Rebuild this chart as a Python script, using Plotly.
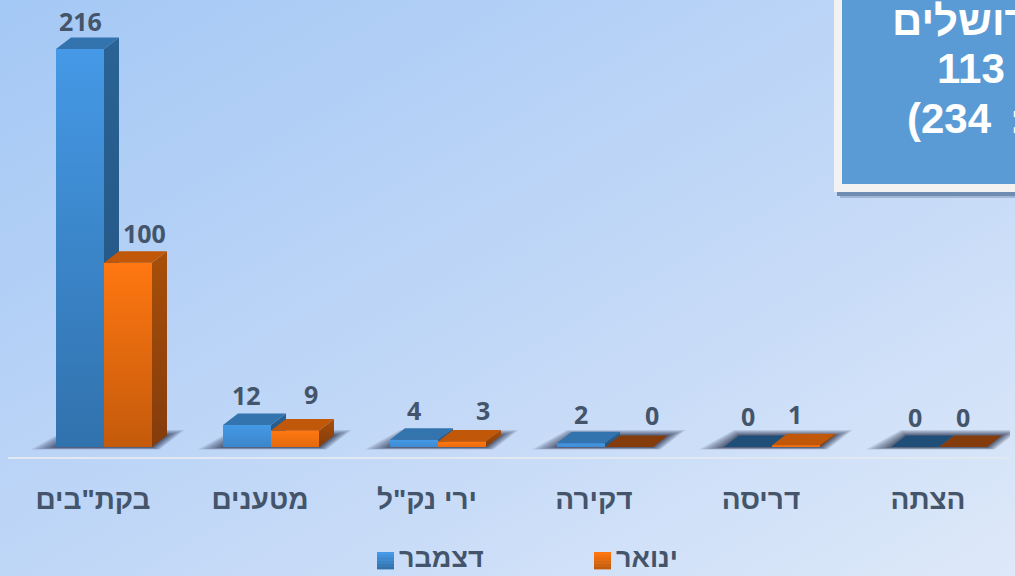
import base64
import plotly.graph_objects as go

# ---------- data ----------
categories = ['בקת"בים', "מטענים", 'ירי נק"ל', "דקירה", "דריסה", "הצתה"]
december = [216, 12, 4, 2, 0, 0]
january = [100, 9, 3, 0, 1, 0]
series_names = ["דצמבר", "ינואר"]
box_lines = ["ירושלים", "113", "(234\u00a0\u200a\u200a:"]

# ---------- style / geometry ----------
W, H = 1015, 576
PL, PR, PT, PB = 8, 5, 0, 119
GROUP_PX, GROUP0_PX = 167, 104
UNIT_PX, BASE_PX = 1.843, 447
AXIS_PX = 457
BAR_PX, DEPTH_X_PX, DEPTH_Y_PX = 48, 15, 11.5
TXT = "#44546a"
FONT = "Open Sans, DejaVu Sans, sans-serif"
HEB = "Liberation Sans, Arial, sans-serif"

bw = BAR_PX / GROUP_PX
dx = DEPTH_X_PX / GROUP_PX
dy = DEPTH_Y_PX / UNIT_PX

xr = [(PL - GROUP0_PX) / GROUP_PX, (W - PR - GROUP0_PX) / GROUP_PX]
yr = [(BASE_PX - AXIS_PX) / UNIT_PX, BASE_PX / UNIT_PX]


def hexrgb(h):
    return tuple(int(h[i:i + 2], 16) for i in (1, 3, 5))


def mix(a, b, t):
    ca, cb = hexrgb(a), hexrgb(b)
    return "#%02x%02x%02x" % tuple(round(p + (q - p) * t) for p, q in zip(ca, cb))


PAL = [
    dict(top="#4599e6", bottom="#3172ad", side0="#2a6394", side1="#215280", cap="#3373ae", dark="#1f4e79"),
    dict(top="#ff7711", bottom="#c45a0b", side0="#a84f09", side1="#843c0c", cap="#c05709", dark="#843c0c"),
]

bg_svg = f"""<svg xmlns='http://www.w3.org/2000/svg' width='{W}' height='{H}'>
<defs><linearGradient id='g' gradientUnits='userSpaceOnUse' x1='0' y1='0' x2='504' y2='877'>
<stop offset='0' stop-color='#a4c8f5'/><stop offset='0.55' stop-color='#c2d8f7'/><stop offset='1' stop-color='#deE9f9'/>
</linearGradient></defs><rect width='{W}' height='{H}' fill='url(#g)'/></svg>"""
bg_uri = "data:image/svg+xml;base64," + base64.b64encode(bg_svg.encode()).decode()

fig = go.Figure()
xs = list(range(len(categories)))

# real bars
for k, (name, vals) in enumerate(zip(series_names, (december, january))):
    fig.add_trace(go.Bar(x=xs, y=vals, name=name, width=bw, offset=(k - 1) * bw,
                         marker=dict(color=mix(PAL[k]["top"], PAL[k]["bottom"], 0.5), line=dict(width=0)),
                         showlegend=False, cliponaxis=False))


def poly(px, py, fill=None, grad=None):
    kw = dict(fillcolor=fill) if fill else dict(fillgradient=dict(type="vertical", colorscale=[[0, grad[0]], [1, grad[1]]]))
    fig.add_trace(go.Scatter(x=px, y=py, mode="lines", fill="toself", line=dict(width=0),
                             hoverinfo="skip", showlegend=False, **kw))


# 3-D faces, blue first so that orange overlaps it
for k, vals in enumerate((december, january)):
    p = PAL[k]
    for i, v in enumerate(vals):
        x0 = i + (k - 1) * bw
        x1 = x0 + bw
        if v > 0:
            poly([x1, x1 + dx, x1 + dx, x1, x1], [0, dy, v + dy, v, 0], grad=(p["side1"], p["side0"]))
            t = min(1, 0.3 + v / 60)
            poly([x0, x1, x1, x0, x0], [0, 0, v, v, 0], grad=(mix(p["top"], p["bottom"], t), p["top"]))
        poly([x0, x1, x1 + dx, x0 + dx, x0], [v, v, v + dy, v + dy, v], fill=p["cap"] if v > 0 else p["dark"])

# soft floor shadows
shapes = []
for i in xs:
    x0, x1 = i - bw, i + bw
    for e in (25, 22, 19, 16, 13, 10, 8, 6, 4, 2):
        ex = e / GROUP_PX
        top = dy + (0.22 * e) / UNIT_PX
        low = -(0.5 + 0.08 * e) / UNIT_PX
        shapes.append(dict(type="path", xref="x", yref="y", layer="below",
                           path=f"M{x0 - ex},{low} L{x1 + ex * 0.3},{low} L{x1 + dx + ex * 0.7},{top} L{x0 + dx - ex * 0.2},{top} Z",
                           fillcolor="rgba(40,50,70,0.11)", line=dict(width=0)))


def pxx(p):
    return (p - PL) / (W - PL - PR)


def pxy(p):
    return 1 - (p - PT) / (H - PT - PB)


def rect(x0, y0, x1, y1, color):
    shapes.append(dict(type="rect", xref="paper", yref="paper", layer="above",
                       x0=pxx(x0), x1=pxx(x1), y0=pxy(y1), y1=pxy(y0),
                       fillcolor=color, line=dict(width=0)))


# info box, running off the right and top edge
rect(840, -10, 1040, 198, "rgba(90,115,150,0.35)")
rect(837, -10, 1040, 196, "#6f8db3")
rect(834, -10, 1040, 192, "#f2f2f2")
rect(842, -10, 1040, 184, "#5b9bd5")

# legend swatches
for (sx, top, bottom) in ((377, PAL[0]["top"], PAL[0]["bottom"]), (594, PAL[1]["top"], PAL[1]["bottom"])):
    n = 6
    for j in range(n):
        rect(sx, 552 + 17 * j / n, sx + 17, 552 + 17 * (j + 1) / n + 0.4, mix(top, bottom, j / (n - 1)))

annotations = []
# value labels: horizontal nudges because the original labels are hand placed
nudge_dec = [0, -1, 0, 0, 0, 0]
nudge_jan = [16, 16, 21, 23, -1, 0]
rise_dec = [28, 30, 30, 29, 31, 30]
rise_jan = [30, 36, 31, 32, 31, 30]
for k, (vals, nudge, rise) in enumerate(((december, nudge_dec, rise_dec), (january, nudge_jan, rise_jan))):
    for i, v in enumerate(vals):
        annotations.append(dict(x=i + (k - 0.5) * bw, y=v, xref="x", yref="y", text=str(v), showarrow=False,
                                xanchor="center", yanchor="middle", xshift=nudge[i], yshift=rise[i],
                                font=dict(family=FONT, size=25, color=TXT, weight="bold")))

# box text
BOX_FONT = dict(family="Liberation Sans, Arial, sans-serif", size=42, color="#ffffff", weight="bold")
for txt, xa, x, y in ((box_lines[0], "left", 890, 20), (box_lines[1], "center", 971, 69), (box_lines[2], "left", 905, 118)):
    annotations.append(dict(x=pxx(x), y=pxy(y), xref="paper", yref="paper", text=txt, showarrow=False,
                            xanchor=xa, yanchor="middle", font=BOX_FONT, align="left"))

# legend labels
for txt, x in ((series_names[0], 397), (series_names[1], 614)):
    annotations.append(dict(x=pxx(x), y=pxy(558), xref="paper", yref="paper", text=txt, showarrow=False,
                            xanchor="left", yanchor="middle", font=dict(family=HEB, size=27, color=TXT, weight="bold")))

fig.update_layout(
    width=W, height=H, margin=dict(l=PL, r=PR, t=PT, b=PB, pad=0),
    paper_bgcolor="#c2d8f7", plot_bgcolor="rgba(0,0,0,0)",
    barmode="overlay", showlegend=False, shapes=shapes, annotations=annotations,
    images=[dict(source=bg_uri, xref="paper", yref="paper", x=pxx(0), y=pxy(0),
                 sizex=W / (W - PL - PR), sizey=H / (H - PT - PB), sizing="stretch",
                 xanchor="left", yanchor="top", layer="below")],
    xaxis=dict(range=xr, tickmode="array", tickvals=[i - 11 / GROUP_PX for i in xs], ticktext=categories,
               showgrid=False, zeroline=False, showline=True, linecolor="#e2e8f1", linewidth=2, ticks="",
               ticklabelstandoff=16, tickangle=0,
               tickfont=dict(family=HEB, size=28, color=TXT, weight="bold")),
    yaxis=dict(range=yr, visible=False, showgrid=False, zeroline=False),
)

fig.write_html("out.html", config=dict(displayModeBar=False),
               post_script="document.body.style.margin='0';document.body.style.overflow='hidden';")
